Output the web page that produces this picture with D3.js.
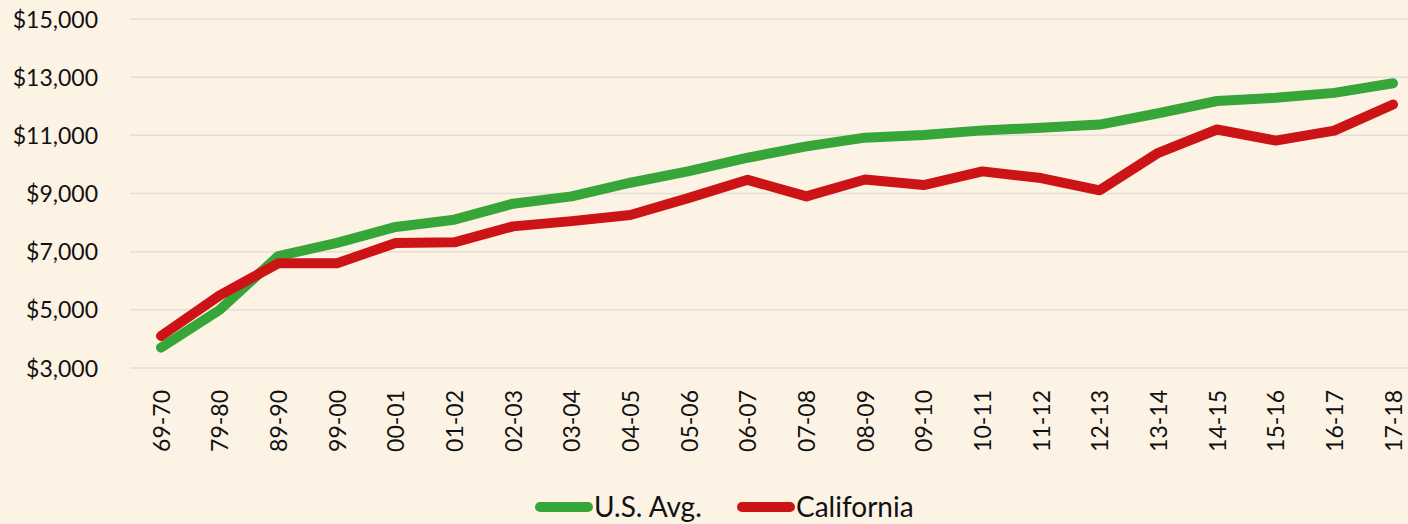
<!DOCTYPE html>
<html>
<head>
<meta charset="utf-8">
<script src="https://cdn.jsdelivr.net/npm/d3@7"></script>
<style>
  body { margin: 0; background: #fdf3e5; }
  text { font-family: Lato, "Open Sans", sans-serif; fill: #111; }
</style>
</head>
<body>
<div id="my_dataviz"></div>
<script>
// data
var years = ["69-70","79-80","89-90","99-00","00-01","01-02","02-03","03-04","04-05","05-06","06-07",
             "07-08","08-09","09-10","10-11","11-12","12-13","13-14","14-15","15-16","16-17","17-18"];
var usAvg = [3700, 5000, 6850, 7300, 7850, 8100, 8650, 8900, 9370, 9770, 10230,
             10620, 10920, 11010, 11170, 11260, 11370, 11760, 12180, 12290, 12460, 12790];
var california = [4100, 5500, 6600, 6600, 7300, 7320, 7870, 8050, 8260, 8850, 9470,
                  8900, 9480, 9290, 9760, 9530, 9110, 10400, 11200, 10820, 11160, 12060];
var yTicks = [3000, 5000, 7000, 9000, 11000, 13000, 15000];

var series = [
  {name: "U.S. Avg.", values: usAvg, color: "#37a638"},
  {name: "California", values: california, color: "#cc1316"}
];

var W = 1408, H = 524;

var svg = d3.select("#my_dataviz")
  .append("svg")
    .attr("width", W)
    .attr("height", H)
    .style("display", "block");

svg.append("rect").attr("width", W).attr("height", H).attr("fill", "#fdf3e5");

var x = d3.scalePoint()
  .domain(years)
  .range([161, 1393]);

var y = d3.scaleLinear()
  .domain([3000, 15000])
  .range([368, 19]);

// gridlines
svg.append("g")
  .selectAll("line")
  .data(yTicks)
  .enter()
  .append("line")
    .attr("x1", 130)
    .attr("x2", W)
    .attr("y1", function(d) { return y(d); })
    .attr("y2", function(d) { return y(d); })
    .attr("stroke", "#e3ded6")
    .attr("stroke-width", 1.5);

// y axis labels
var yAxis = svg.append("g")
  .attr("transform", "translate(98,0)")
  .call(d3.axisLeft(y).tickValues(yTicks).tickSize(0).tickPadding(0)
    .tickFormat(function(d) { return "$" + d3.format(",")(d); }));
yAxis.select(".domain").remove();
yAxis.selectAll("text").style("font-size", "23px").attr("dy", "0.35em");

// x axis labels, rotated
var xAxis = svg.append("g")
  .attr("transform", "translate(0,390)")
  .call(d3.axisBottom(x).tickSize(0).tickPadding(0));
xAxis.select(".domain").remove();
xAxis.selectAll("text")
  .style("font-size", "23px")
  .attr("text-anchor", "end")
  .attr("transform", "rotate(-90)")
  .attr("x", 0)
  .attr("y", 0)
  .attr("dx", 0)
  .attr("dy", "0.35em");

// lines
var line = d3.line()
  .x(function(d, i) { return x(years[i]); })
  .y(function(d) { return y(d); });

svg.append("g")
  .selectAll("path")
  .data(series)
  .enter()
  .append("path")
    .attr("d", function(d) { return line(d.values); })
    .attr("fill", "none")
    .attr("stroke", function(d) { return d.color; })
    .attr("stroke-width", 10)
    .attr("stroke-linejoin", "round")
    .attr("stroke-linecap", "round");

// legend
var legendX = [540, 742];
var legend = svg.append("g")
  .selectAll("g")
  .data(series)
  .enter()
  .append("g")
    .attr("transform", function(d, i) { return "translate(" + legendX[i] + ",507)"; });

legend.append("line")
  .attr("x1", 0).attr("x2", 48)
  .attr("stroke", function(d) { return d.color; })
  .attr("stroke-width", 10)
  .attr("stroke-linecap", "round");

legend.append("text")
  .attr("x", 54)
  .attr("dy", "0.35em")
  .style("font-size", "28px")
  .text(function(d) { return d.name; });
</script>
</body>
</html>
